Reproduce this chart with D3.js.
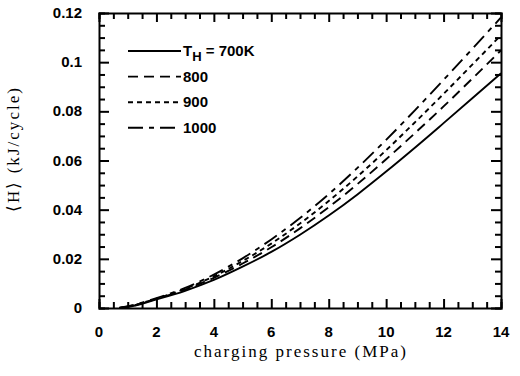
<!DOCTYPE html>
<html>
<head>
<meta charset="utf-8">
<script src="https://cdn.jsdelivr.net/npm/d3@7"></script>
<style>
  body { margin: 0; background: #fff; }
  .tick-label { font-family: "Liberation Sans", Arial, sans-serif; font-weight: bold; font-size: 15px; }
  .title { font-family: "Liberation Serif", "Times New Roman", serif; font-size: 17px; }
</style>
</head>
<body>
<div id="chart"></div>
<script>
// boiler plate
const svgWidth = 520
const svgHeight = 376

let margin = { top: 13, right: 19, bottom: 68, left: 99 }
let width = svgWidth - margin.left - margin.right
let height = svgHeight - margin.top - margin.bottom

// data
const pressure = [0.7, 1, 2, 3, 4, 5, 6, 7, 8, 9, 10, 11, 12, 13, 14]
const h700  = [0, 0.0004, 0.0035, 0.0070, 0.0114, 0.0168, 0.0228, 0.0298, 0.0376, 0.0462, 0.0555, 0.0652, 0.0752, 0.0853, 0.0955]
const h800  = [0, 0.0005, 0.0037, 0.0075, 0.0123, 0.0181, 0.0247, 0.0324, 0.0410, 0.0504, 0.0605, 0.0711, 0.0820, 0.0933, 0.1048]
const h900  = [0, 0.0006, 0.0038, 0.0078, 0.0129, 0.0191, 0.0262, 0.0344, 0.0435, 0.0535, 0.0642, 0.0755, 0.0871, 0.0990, 0.1110]
const h1000 = [0, 0.0007, 0.0040, 0.0082, 0.0136, 0.0202, 0.0279, 0.0366, 0.0463, 0.0570, 0.0684, 0.0804, 0.0928, 0.1054, 0.1182]
const legendLabels = ["700K", "800", "900", "1000"]
const xTicks = [0, 2, 4, 6, 8, 10, 12, 14]
const yTicks = [0, 0.02, 0.04, 0.06, 0.08, 0.1, 0.12]

let series = [
  { label: legendLabels[0], values: h700, dash: null },
  { label: legendLabels[1], values: h800, dash: "10,6" },
  { label: legendLabels[2], values: h900, dash: "5,4" },
  { label: legendLabels[3], values: h1000, dash: "15,6,5,6" }
]

let svg = d3.select("#chart").append("svg")
  .attr("width", svgWidth)
  .attr("height", svgHeight)

let chartGroup = svg.append("g")
  .attr("transform", `translate(${margin.left}, ${margin.top})`)

let x = d3.scaleLinear().domain([0, 14]).range([0, width])
let y = d3.scaleLinear().domain([0, 0.12]).range([height, 0])

// inward ticks on all four sides (minor every 0.5 / 0.005)
let xMinor = d3.range(0, 29).map(i => i * 0.5)
let yMinor = d3.range(0, 25).map(i => i * 0.005)
function isMajor(v, step) { return Math.abs(v / step - Math.round(v / step)) < 1e-6 }

let axes = [
  chartGroup.append("g").attr("transform", `translate(0, ${height})`)
    .call(d3.axisBottom(x).tickValues(xMinor).tickSize(-6).tickFormat("")),
  chartGroup.append("g")
    .call(d3.axisTop(x).tickValues(xMinor).tickSize(-6).tickFormat("")),
  chartGroup.append("g")
    .call(d3.axisLeft(y).tickValues(yMinor).tickSize(-6).tickFormat("")),
  chartGroup.append("g").attr("transform", `translate(${width}, 0)`)
    .call(d3.axisRight(y).tickValues(yMinor).tickSize(-6).tickFormat(""))
]
axes.forEach(a => {
  a.select(".domain").attr("stroke", "#000").attr("stroke-width", 2)
  a.selectAll(".tick line").attr("stroke", "#000").attr("stroke-width", 2)
})
axes[0].selectAll(".tick line").attr("y2", d => isMajor(d, 2) ? -9 : -6)
axes[1].selectAll(".tick line").attr("y2", d => isMajor(d, 2) ? 9 : 6)
axes[2].selectAll(".tick line").attr("x2", d => isMajor(d, 0.02) ? 10 : 6)
axes[3].selectAll(".tick line").attr("x2", d => isMajor(d, 0.02) ? -10 : -6)

// tick labels
chartGroup.selectAll(".xlab").data(xTicks).enter().append("text")
  .attr("class", "tick-label")
  .attr("x", d => x(d))
  .attr("y", height + 29)
  .attr("text-anchor", "middle")
  .text(d => d)

chartGroup.selectAll(".ylab").data(yTicks).enter().append("text")
  .attr("class", "tick-label")
  .attr("x", -17)
  .attr("y", d => y(d) + 5)
  .attr("text-anchor", "end")
  .text(d => d)

// curves
let line = d3.line()
  .x((d, i) => x(pressure[i]))
  .y(d => y(d))
  .curve(d3.curveMonotoneX)

chartGroup.selectAll(".curve").data(series).enter().append("path")
  .attr("d", d => line(d.values))
  .attr("fill", "none")
  .attr("stroke", "#000")
  .attr("stroke-width", 1.9)
  .attr("stroke-dasharray", d => d.dash)

// legend
let legend = chartGroup.append("g").attr("transform", "translate(29, 38)")
series.forEach((s, i) => {
  let row = legend.append("g").attr("transform", `translate(0, ${i * 25.6})`)
  row.append("line")
    .attr("x1", 0).attr("x2", 53)
    .attr("stroke", "#000").attr("stroke-width", 1.9)
    .attr("stroke-dasharray", s.dash)
  let t = row.append("text").attr("class", "tick-label").attr("x", 55).attr("y", 5)
  if (i === 0) {
    t.append("tspan").text("T")
    t.append("tspan").attr("font-size", 13).attr("dy", 5).text("H")
    t.append("tspan").attr("dy", -5).text(" = " + s.label)
  } else {
    t.text(s.label)
  }
})

// axis titles
svg.append("text")
  .attr("class", "title")
  .attr("x", margin.left + width / 2)
  .attr("y", 357)
  .attr("text-anchor", "middle")
  .attr("textLength", 212)
  .attr("lengthAdjust", "spacing")
  .text("charging pressure (MPa)")

svg.append("text")
  .attr("class", "title")
  .attr("transform", "translate(19, 150) rotate(-90)")
  .attr("text-anchor", "middle")
  .attr("textLength", 124)
  .attr("lengthAdjust", "spacing")
  .text("\u27E8H\u27E9 (kJ/cycle)")
</script>
</body>
</html>
